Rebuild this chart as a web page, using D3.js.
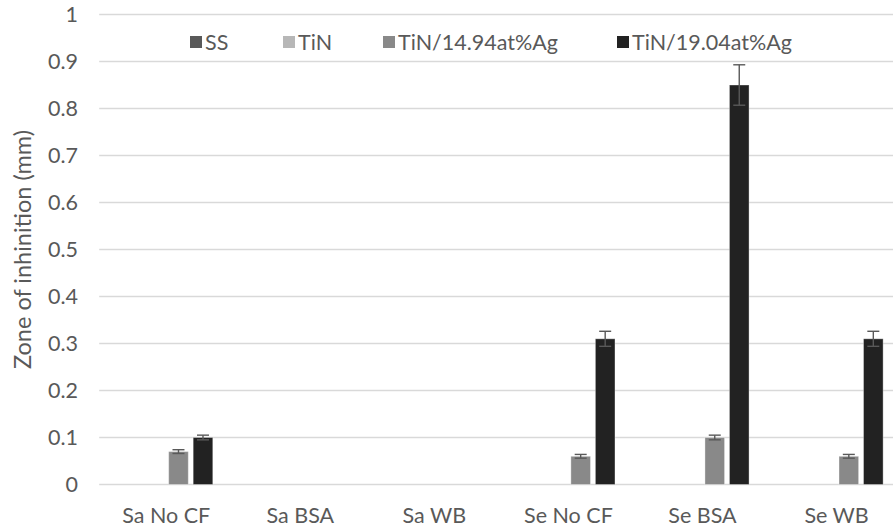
<!DOCTYPE html>
<html>
<head>
<meta charset="utf-8">
<script src="https://cdn.jsdelivr.net/npm/d3@7"></script>
<style>
  html, body { margin: 0; padding: 0; background: #fff; }
  svg { display: block; font-family: Lato, "Open Sans", sans-serif; }
</style>
</head>
<body>
<svg id="chart" width="893" height="530"></svg>
<script>
// Zone of inhibition per bacterium / culture fluid, per coating
const categories = ["Sa No CF", "Sa BSA", "Sa WB", "Se No CF", "Se BSA", "Se WB"];
const seriesNames = ["SS", "TiN", "TiN/14.94at%Ag", "TiN/19.04at%Ag"];
const seriesColors = ["#595959", "#b7b7b7", "#898989", "#222222"];
const ssValues     = [0, 0, 0, 0, 0, 0];
const tinValues    = [0, 0, 0, 0, 0, 0];
const ag1494Values = [0.07, 0, 0, 0.06, 0.10, 0.06];
const ag1904Values = [0.10, 0, 0, 0.31, 0.85, 0.31];
const ssErrors     = [0, 0, 0, 0, 0, 0];
const tinErrors    = [0, 0, 0, 0, 0, 0];
const ag1494Errors = [0.004, 0, 0, 0.004, 0.005, 0.004];
const ag1904Errors = [0.005, 0, 0, 0.016, 0.043, 0.016];
const yTicks = [0, 0.1, 0.2, 0.3, 0.4, 0.5, 0.6, 0.7, 0.8, 0.9, 1];
const yTitle = "Zone of inhinition (mm)";

const values = [ssValues, tinValues, ag1494Values, ag1904Values];
const errors = [ssErrors, tinErrors, ag1494Errors, ag1904Errors];

const textColor = "#595959";
const labelSize = 21.5;

const svg = d3.select("#chart");
const plot = { left: 99.2, right: 903.6, top: 14.5, bottom: 484.5 };

const x = d3.scaleBand().domain(categories).range([plot.left, plot.right]).padding(0);
const groupWidth = 98;
const xs = d3.scaleBand().domain(seriesNames)
  .range([(x.bandwidth() - groupWidth) / 2, (x.bandwidth() + groupWidth) / 2])
  .paddingInner(0.2).paddingOuter(0.1);
const y = d3.scaleLinear().domain([0, 1]).range([plot.bottom, plot.top]);

// Horizontal gridlines
svg.append("g").selectAll("line").data(yTicks).join("line")
  .attr("x1", plot.left).attr("x2", 893)
  .attr("y1", d => y(d)).attr("y2", d => y(d))
  .attr("stroke", "#d9d9d9").attr("stroke-width", 1.3);

// Y axis tick labels
const yAxis = d3.axisLeft(y).tickValues(yTicks).tickSize(0).tickPadding(0)
  .tickFormat(d => d3.format("")(+d.toFixed(1)));
svg.append("g").attr("transform", `translate(78,0)`).call(yAxis)
  .call(g => g.select(".domain").remove())
  .call(g => g.attr("font-family", null).attr("font-size", null))
  .selectAll("text")
  .attr("font-size", labelSize).attr("fill", textColor);

// Y axis title
svg.append("text")
  .attr("transform", `translate(31,${(plot.top + plot.bottom) / 2}) rotate(-90)`)
  .attr("text-anchor", "middle").attr("font-size", 23.5).attr("fill", textColor)
  .text(yTitle);

// X axis category labels
const xAxis = d3.axisBottom(x).tickSize(0).tickPadding(0);
svg.append("g").attr("transform", `translate(0,${plot.bottom + 32})`).call(xAxis)
  .call(g => g.select(".domain").remove())
  .call(g => g.attr("font-family", null).attr("font-size", null))
  .selectAll("text")
  .attr("dy", "0.32em")
  .attr("font-size", labelSize).attr("fill", textColor);

// Bars
const rows = [];
seriesNames.forEach((s, si) => categories.forEach((c, ci) => {
  rows.push({ s, si, c, v: values[si][ci], e: errors[si][ci] });
}));
const drawn = rows.filter(d => d.v > 0);

svg.append("g").selectAll("rect").data(drawn).join("rect")
  .attr("x", d => x(d.c) + xs(d.s))
  .attr("y", d => y(d.v))
  .attr("width", xs.bandwidth())
  .attr("height", d => y(0) - y(d.v))
  .attr("fill", d => seriesColors[d.si])
  .attr("stroke", "#ffffff").attr("stroke-opacity", 0.35).attr("stroke-width", 1);

// Error bars
const eb = svg.append("g").attr("stroke", "#595959").attr("stroke-width", 1.4);
const capHalf = 6;
drawn.filter(d => d.e > 0).forEach(d => {
  const cx = x(d.c) + xs(d.s) + xs.bandwidth() / 2;
  eb.append("line").attr("x1", cx).attr("x2", cx)
    .attr("y1", y(d.v + d.e)).attr("y2", y(d.v - d.e));
  [d.v + d.e, d.v - d.e].forEach(v => {
    eb.append("line").attr("x1", cx - capHalf).attr("x2", cx + capHalf)
      .attr("y1", y(v)).attr("y2", y(v));
  });
});

// Legend
const legendX = [190, 283, 383, 617];
const legend = svg.append("g").selectAll("g").data(seriesNames).join("g")
  .attr("transform", (d, i) => `translate(${legendX[i]},42)`);
legend.append("rect").attr("x", 0).attr("y", -6).attr("width", 12).attr("height", 12)
  .attr("fill", (d, i) => seriesColors[i]);
legend.append("text").attr("x", 15).attr("y", 0).attr("dy", "0.35em")
  .attr("font-size", labelSize).attr("fill", textColor).text(d => d);
</script>
</body>
</html>
